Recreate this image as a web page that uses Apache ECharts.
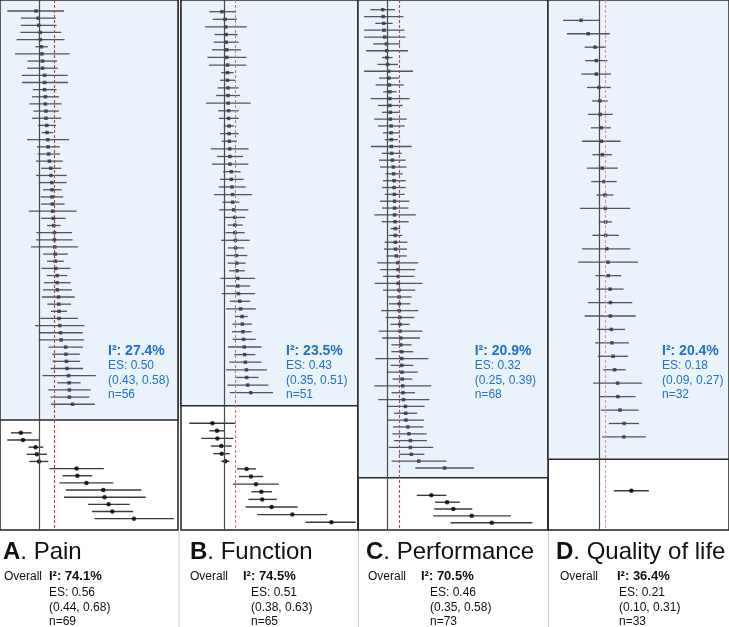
<!DOCTYPE html>
<html><head><meta charset="utf-8">
<script src="https://cdn.jsdelivr.net/npm/echarts@6/dist/echarts.min.js"></script>
<style>html,body{margin:0;padding:0;background:#fff}#c{width:729px;height:627px}</style>
</head><body><div id="c"></div>
<script>
// ---------- Data (effect sizes with 95% CI) ----------
// A. Pain
const painEs = [-0.11,-0.03,-0.01,0.05,0.05,0.09,0.11,0.13,0.13,0.21,0.21,0.21,0.24,0.24,0.26,0.26,0.29,0.30,0.33,0.34,0.36,0.39,0.44,0.45,0.48,0.49,0.49,0.50,0.51,0.54,0.55,0.58,0.58,0.59,0.61,0.61,0.63,0.68,0.68,0.69,0.73,0.74,0.75,0.75,0.78,0.81,0.83,1.00,1.01,1.03,1.05,1.11,1.13,1.14,1.14,1.26];
const painLo = [-1.19,-0.68,-0.68,-0.70,-0.84,-0.14,-0.90,-0.43,-0.44,-0.64,-0.64,-0.23,-0.26,-0.36,-0.21,-0.26,-0.04,0.10,-0.45,-0.08,-0.05,-0.11,0.08,-0.11,-0.01,0.15,0.06,0.08,-0.38,0.08,0.30,-0.10,-0.11,-0.30,0.16,0.30,0.09,0.29,0.19,0.15,0.11,0.31,0.45,0.05,-0.15,-0.01,-0.01,0.35,0.49,0.51,0.44,0.13,0.69,0.35,0.43,0.45];
const painHi = [0.94,0.63,0.66,0.83,0.96,0.33,1.15,0.68,0.70,1.08,1.09,0.66,0.75,0.85,0.75,0.83,0.64,0.53,1.13,0.78,0.79,0.89,0.83,1.04,1.04,0.85,0.91,0.96,1.41,1.00,0.81,1.24,1.26,1.46,1.08,0.93,1.18,1.06,1.19,1.23,1.34,1.20,1.05,1.46,1.70,1.64,1.69,1.65,1.53,1.54,1.65,2.13,1.56,1.94,1.89,2.09];
const painEs2 = [-0.68,-0.60,-0.13,-0.08,0.00,1.41,1.44,1.78,2.41,2.46,2.61,2.75,3.56];
const painLo2 = [-1.05,-1.19,-0.39,-0.46,-0.36,0.39,0.88,0.76,1.01,0.94,1.84,1.99,2.08];
const painHi2 = [-0.28,0.01,0.16,0.30,0.35,2.43,2.00,2.79,3.84,4.00,3.40,3.53,5.06];
// B. Function
const funcEs = [-0.11,0.03,0.06,0.09,0.09,0.11,0.11,0.15,0.15,0.15,0.17,0.17,0.18,0.20,0.20,0.22,0.22,0.23,0.25,0.26,0.26,0.32,0.32,0.35,0.38,0.38,0.43,0.48,0.49,0.49,0.51,0.52,0.55,0.57,0.58,0.62,0.62,0.65,0.71,0.75,0.82,0.83,0.86,0.89,0.92,0.94,0.97,1.02,1.03,1.08,1.22];
const funcLo = [-0.69,-0.54,-0.89,-0.45,-0.49,-0.57,-0.78,-0.71,-0.14,-0.20,-0.31,-0.38,-0.85,-0.28,-0.25,-0.03,-0.20,-0.12,-0.62,-0.34,-0.57,-0.06,-0.20,-0.25,-0.48,-0.09,-0.23,0.00,0.15,0.06,-0.15,0.17,0.08,0.15,0.22,-0.18,0.08,-0.12,0.25,0.08,0.54,0.37,0.35,0.38,0.17,0.46,0.23,0.08,0.49,0.14,0.25];
const funcHi = [0.51,0.58,1.03,0.62,0.66,0.77,1.02,1.02,0.43,0.51,0.66,0.72,1.22,0.66,0.66,0.45,0.66,0.58,1.12,0.86,1.11,0.75,0.89,0.98,1.28,0.69,1.11,0.97,0.85,0.94,1.17,0.92,1.06,0.98,0.95,1.42,1.20,1.42,1.20,1.45,1.08,1.28,1.26,1.45,1.71,1.43,1.71,1.97,1.58,2.03,2.25];
const funcEs2 = [-0.55,-0.34,-0.32,-0.14,-0.12,0.05,1.03,1.23,1.46,1.71,1.75,2.18,3.14,4.94];
const funcLo2 = [-1.62,-0.69,-1.06,-0.62,-0.51,-0.14,0.58,0.66,0.40,1.25,1.11,0.98,1.52,3.75];
const funcHi2 = [0.51,0.03,0.42,0.34,0.25,0.23,1.46,1.80,2.51,2.20,2.42,3.38,4.74,6.06];
// C. Performance
const perfEs = [-0.20,-0.18,-0.16,-0.15,-0.12,-0.05,-0.04,-0.03,0.00,0.04,0.05,0.07,0.09,0.09,0.09,0.11,0.11,0.14,0.14,0.15,0.15,0.16,0.19,0.23,0.24,0.26,0.26,0.27,0.28,0.28,0.28,0.30,0.31,0.31,0.31,0.32,0.35,0.41,0.42,0.43,0.43,0.46,0.47,0.47,0.47,0.49,0.50,0.50,0.53,0.54,0.57,0.57,0.57,0.58,0.59,0.61,0.62,0.64,0.72,0.73,0.74,0.82,0.86,0.92,0.92,0.96,1.26,2.31];
const perfLo = [-0.70,-0.96,-0.50,-0.96,-0.96,-0.59,-0.88,-0.23,-0.41,-0.96,-0.35,-0.49,-0.18,-0.69,-0.39,-0.23,-0.55,-0.39,-0.19,-0.12,-0.68,-0.24,-0.35,-0.31,-0.09,-0.19,-0.23,-0.12,-0.31,-0.23,-0.55,-0.24,0.11,0.04,-0.12,-0.15,-0.05,-0.42,-0.30,-0.19,-0.53,-0.19,-0.03,0.05,-0.26,-0.09,0.11,-0.36,-0.23,0.15,0.15,-0.50,0.12,-0.04,0.20,-0.55,0.16,-0.38,-0.04,0.26,0.01,0.22,0.19,0.26,0.04,0.46,0.16,1.12];
const perfHi = [0.30,0.64,0.20,0.68,0.72,0.50,0.82,0.20,0.42,1.03,0.45,0.65,0.36,0.89,0.61,0.45,0.77,0.69,0.50,0.42,0.97,0.57,0.73,0.77,0.61,0.73,0.73,0.69,0.89,0.84,1.14,0.85,0.51,0.59,0.80,0.78,0.77,1.24,1.12,1.08,1.41,1.12,0.97,0.91,1.24,1.08,0.89,1.41,1.31,0.97,1.04,1.65,1.04,1.23,1.00,1.77,1.11,1.69,1.50,1.20,1.47,1.45,1.58,1.59,1.85,1.49,2.38,3.49];
const perfEs2 = [1.77,2.41,2.66,3.41,4.22];
const perfLo2 = [1.18,1.92,1.89,1.85,2.55];
const perfHi2 = [2.38,2.92,3.43,4.99,5.86];
// D. Quality of life
const qolEs = [-0.60,-0.36,-0.13,-0.09,-0.09,0.00,0.03,0.04,0.07,0.08,0.11,0.11,0.17,0.20,0.21,0.22,0.22,0.26,0.30,0.31,0.37,0.38,0.38,0.41,0.43,0.47,0.52,0.62,0.63,0.70,0.84,0.83];
const qolLo = [-1.20,-1.07,-0.48,-0.46,-0.59,-0.40,-0.23,-0.37,-0.27,-0.57,-0.22,-0.40,-0.26,-0.09,-0.63,-0.01,-0.22,-0.57,-0.69,-0.12,-0.09,-0.37,-0.48,-0.06,-0.13,-0.04,0.14,-0.20,0.02,0.07,0.33,0.11];
const qolHi = [0.01,0.36,0.22,0.28,0.40,0.39,0.29,0.46,0.40,0.72,0.43,0.63,0.59,0.48,1.04,0.43,0.66,1.04,1.30,0.74,0.82,1.11,1.22,0.87,1.00,0.97,0.89,1.44,1.22,1.32,1.33,1.56];
const qolEs2 = [1.08];
const qolLo2 = [0.49];
const qolHi2 = [1.66];

// Panel texts
const letters = ['A','B','C','D'];
const titles = ['Pain','Function','Performance','Quality of life'];
const subI2 = ['27.4%','23.5%','20.9%','20.4%'];
const subES = ['0.50','0.43','0.32','0.18'];
const subCI = ['(0.43, 0.58)','(0.35, 0.51)','(0.25, 0.39)','(0.09, 0.27)'];
const subN = [56,51,68,32];
const allI2 = ['74.1%','74.5%','70.5%','36.4%'];
const allES = [0.56,0.51,0.46,0.21];
const allCI = ['(0.44, 0.68)','(0.38, 0.63)','(0.35, 0.58)','(0.10, 0.31)'];
const allN = [69,65,73,33];

// ---------- Layout / style ----------
const FONT = '"Liberation Sans", Arial, Helvetica, sans-serif';
const BLUE = '#2172c4';
const panels = [
  {up:[painEs,painLo,painHi], low:[painEs2,painLo2,painHi2], left:0, width:178, x:[-1.4625,5.2125], y:[-1.538,72.587], box:57.2, dash:'#d03838',
   subX:108, titleX:3, overX:4, i2X:49, esX:49},
  {up:[funcEs,funcLo,funcHi], low:[funcEs2,funcLo2,funcHi2], left:181, width:177, x:[-2.0,6.169], y:[-1.535,68.019], box:51.71, dash:'#c87a7a',
   subX:286, titleX:190, overX:190, i2X:243, esX:251},
  {up:[perfEs,perfLo,perfHi], low:[perfEs2,perfLo2,perfHi2], left:358, width:190, x:[-1.2027,6.4995], y:[-1.418,76.067], box:68.42, dash:'#a85050',
   subX:474.7, titleX:366, overX:368, i2X:421, esX:430},
  {up:[qolEs,qolLo,qolHi], low:[qolEs2,qolLo2,qolHi2], left:548, width:181, x:[-1.70,4.333], y:[-1.510,37.924], box:32.66, dash:'#d09a9a',
   subX:662, titleX:556, overX:560, i2X:617, esX:619}
];

const grids = [], xAxes = [], yAxes = [], series = [], graphic = [];
panels.forEach((p, i) => {
  grids.push({left:p.left, top:0, width:p.width, height:530, show:true, borderColor:'#222', borderWidth:1.5, backgroundColor:'transparent'});
  xAxes.push({type:'value', gridIndex:i, min:p.x[0], max:p.x[1], show:false});
  yAxes.push({type:'value', gridIndex:i, min:p.y[0], max:p.y[1], inverse:true, show:false});
  const n1 = p.up[0].length;
  const ci = [], ptsUp = [], ptsLow = [];
  p.up[0].forEach((v, k) => { ci.push([p.up[1][k], p.up[2][k], k, 0]); ptsUp.push([v, k]); });
  p.low[0].forEach((v, k) => { const r = n1 + 3 + k; ci.push([p.low[1][k], p.low[2][k], r, 1]); ptsLow.push([v, r]); });
  series.push({type:'scatter', xAxisIndex:i, yAxisIndex:i, data:[], z:1, silent:true,
    markArea:{silent:true, itemStyle:{color:'#eaf2fb', borderColor:'#2a2a2a', borderWidth:1.5},
      data:[[{yAxis:p.y[0]},{yAxis:p.box}]]}});
  series.push({type:'scatter', xAxisIndex:i, yAxisIndex:i, data:[], z:2, silent:true,
    markLine:{silent:true, symbol:['none','none'], label:{show:false}, animation:false,
      data:[{xAxis:0, lineStyle:{color:'#4a4a4a', width:1.2, type:'solid'}},
            {xAxis:allES[i], lineStyle:{color:p.dash, width:1.1, type:[3,2]}}]}});
  series.push({type:'custom', xAxisIndex:i, yAxisIndex:i, z:3, silent:true, data:ci,
    encode:{x:[0,1], y:2},
    renderItem:(params, api) => {
      const a = api.coord([api.value(0), api.value(2)]);
      const b = api.coord([api.value(1), api.value(2)]);
      const g = api.value(3);
      return {type:'line', shape:{x1:a[0], y1:a[1], x2:b[0], y2:b[1]},
        style:{stroke: g ? '#3a3a3a' : '#50565e', lineWidth: g ? 1.4 : 1.3}};
    }});
  series.push({type:'scatter', xAxisIndex:i, yAxisIndex:i, z:4, silent:true, data:ptsUp,
    symbol:'rect', symbolSize:3.5, itemStyle:{color:'#2b3542'}});
  series.push({type:'scatter', xAxisIndex:i, yAxisIndex:i, z:4, silent:true, data:ptsLow,
    symbol:'circle', symbolSize:4.5, itemStyle:{color:'#000'}});

  const t = (x, y, text, font, fill) => ({type:'text', x, y, silent:true, z:10,
    style:{text, fill, font, textVerticalAlign:'middle', verticalAlign:'middle'}});
  graphic.push(t(p.subX, 351.5, 'I²: ' + subI2[i], `bold 14px ${FONT}`, BLUE));
  graphic.push(t(p.subX, 366, 'ES: ' + subES[i], `12px ${FONT}`, BLUE));
  graphic.push(t(p.subX, 381, subCI[i], `12px ${FONT}`, BLUE));
  graphic.push(t(p.subX, 395, 'n=' + subN[i], `12px ${FONT}`, BLUE));
  graphic.push({type:'text', x:p.titleX, y:552, silent:true, z:10,
    style:{text:'{b|' + letters[i] + '}{n|. ' + titles[i] + '}', textVerticalAlign:'middle', verticalAlign:'middle',
      rich:{b:{fontFamily:FONT, fontSize:24, fontWeight:'bold', fill:'#111', color:'#111'},
            n:{fontFamily:FONT, fontSize:24, fontWeight:'normal', fill:'#111', color:'#111'}}}});
  graphic.push(t(p.overX, 576.5, 'Overall', `12px ${FONT}`, '#111'));
  graphic.push(t(p.i2X, 576.5, 'I²: ' + allI2[i], `bold 13px ${FONT}`, '#111'));
  graphic.push(t(p.esX, 592.5, 'ES: ' + allES[i].toFixed(2), `12px ${FONT}`, '#111'));
  graphic.push(t(p.esX, 607.5, allCI[i], `12px ${FONT}`, '#111'));
  graphic.push(t(p.esX, 622, 'n=' + allN[i], `12px ${FONT}`, '#111'));
});
[179, 358.5, 548.5].forEach(x => graphic.push({type:'line', silent:true, z:0,
  shape:{x1:x, y1:531, x2:x, y2:627}, style:{stroke:'#cfcfcf', lineWidth:1}}));

const chart = echarts.init(document.getElementById('c'));
chart.setOption({animation:false, grid:grids, xAxis:xAxes, yAxis:yAxes, series, graphic});
</script>
</body></html>
